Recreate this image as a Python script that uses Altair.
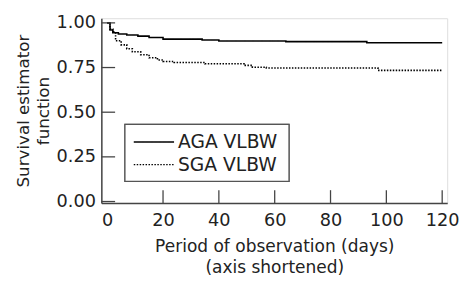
import altair as alt
import pandas as pd

aga_days = [0, 1, 2, 4, 7, 11, 15, 20, 34, 40, 64, 93, 120]
aga_surv = [1.0, 0.96, 0.945, 0.938, 0.932, 0.926, 0.918, 0.909, 0.904, 0.899, 0.895, 0.889, 0.889]
sga_days = [0, 1, 2, 3, 5, 7, 9, 12, 15, 18, 20, 24, 35, 49, 52, 57, 97, 120]
sga_surv = [1.0, 0.965, 0.95, 0.9, 0.877, 0.855, 0.838, 0.822, 0.805, 0.792, 0.784, 0.778,
            0.771, 0.762, 0.752, 0.747, 0.734, 0.734]
groups = ["AGA VLBW", "SGA VLBW"]
x_labels = [0, 20, 40, 60, 80, 100, 120]
x_ticks = [20, 40, 60, 80, 100, 120]
y_ticks = [0.0, 0.25, 0.5, 0.75, 1.0]

df = pd.concat([
    pd.DataFrame({"day": aga_days, "surv": aga_surv, "group": groups[0]}),
    pd.DataFrame({"day": sga_days, "surv": sga_surv, "group": groups[1]}),
])
xt = pd.DataFrame({"v": x_ticks})
yt = pd.DataFrame({"v": y_ticks})
leg = pd.DataFrame({"group": groups})

FONT = "DejaVu Sans"
TXT = "#222222"
AX = "#444444"
xscale = alt.Scale(domain=[-2.1, 121.8], nice=False, zero=False)
yscale = alt.Scale(domain=[-0.008, 1.026], nice=False, zero=False)
dash_scale = alt.Scale(domain=groups, range=[[1, 0], [1.5, 1.5]])

main_x = alt.Axis(values=x_labels, ticks=False, grid=False, format="d",
                  labelFontSize=18, labelColor=TXT, labelPadding=9, labelFont=FONT,
                  domainColor=AX, domainWidth=1.5,
                  title=["Period of observation (days)", "(axis shortened)"],
                  titleFontSize=17.3, titleFontWeight="normal", titleColor=TXT, titleFont=FONT,
                  titlePadding=8, titleLineHeight=22)
main_y = alt.Axis(values=y_ticks, ticks=False, grid=False, format=".2f",
                  labelFontSize=18, labelColor=TXT, labelPadding=6, labelFont=FONT,
                  domainColor=AX, domainWidth=1.5,
                  title=["Survival estimator", "function"],
                  titleFontSize=17, titleFontWeight="normal", titleColor=TXT, titleFont=FONT,
                  titlePadding=4, titleLineHeight=20)

lines = alt.Chart(df).mark_line(interpolate="step-after", color="black", strokeWidth=1.6).encode(
    x=alt.X("day:Q", scale=xscale, axis=main_x),
    y=alt.Y("surv:Q", scale=yscale, axis=main_y),
    strokeDash=alt.StrokeDash("group:N", scale=dash_scale, legend=None),
)

xtick = alt.Chart(xt).mark_rule(color=AX, strokeWidth=1.3).encode(
    x=alt.X("v:Q", scale=xscale), y=alt.value(175), y2=alt.value(188))
ytick = alt.Chart(yt).mark_rule(color=AX, strokeWidth=1.3).encode(
    y=alt.Y("v:Q", scale=yscale), x=alt.value(0), x2=alt.value(14))

box = alt.Chart(leg).mark_rect(fill="white", stroke="#555555", strokeWidth=1.3).encode(
    x=alt.value(24), x2=alt.value(191), y=alt.value(108), y2=alt.value(166))

legend_layers = []
for i, g in enumerate(groups):
    ypix = 126 + 23 * i
    legend_layers.append(
        alt.Chart(leg).transform_filter(alt.datum.group == g).mark_rule(
            color="black", strokeWidth=1.4).encode(
            x=alt.value(33), x2=alt.value(74), y=alt.value(ypix),
            strokeDash=alt.StrokeDash("group:N", scale=dash_scale, legend=None)))
    legend_layers.append(
        alt.Chart(leg).transform_filter(alt.datum.group == g).mark_text(
            align="left", baseline="middle", fontSize=19, font=FONT, color=TXT).encode(
            x=alt.value(78), y=alt.value(ypix), text="group:N"))

chart = alt.layer(lines, xtick, ytick, box, *legend_layers).properties(
    width=352, height=188,
    autosize=alt.AutoSizeParams(type="none"),
    padding={"left": 95, "top": 8, "right": 12, "bottom": 76},
).configure_view(stroke=None).configure(font=FONT)

chart.save("out.html", embed_options={"renderer": "svg", "actions": False})
